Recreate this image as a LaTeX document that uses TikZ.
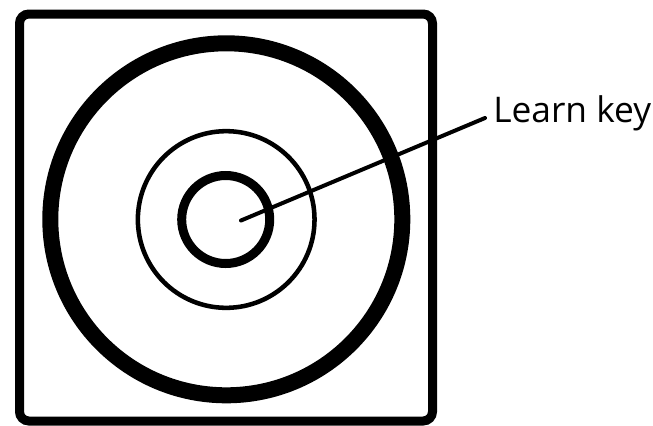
\documentclass[tikz,border=0pt]{standalone}
\usepackage{fontspec}
\setmainfont{Open Sans}
\usepackage{tikz}
\usetikzlibrary{positioning,calc}

\tikzset{
  ring/.style={circle, draw, inner sep=0pt},
  keylabel/.style={font=\fontsize{26.5}{29}\selectfont, inner sep=0pt}
}

\begin{document}
\begin{tikzpicture}[x=0.75pt, y=-0.75pt]
		\useasboundingbox (0,0) rectangle (653,425);
		% housing
		\draw[line width=6.75pt, rounded corners=7pt] (19.5,14) rectangle (432.5,421);
		% rings
		\node[ring, line width=12pt, minimum size=264pt] (outer) at (226.3,219.3) {};
		\node[ring, line width=3.4pt, minimum size=132.5pt] (middle) at (226.2,219.5) {};
		\node[ring, line width=6.75pt, minimum size=66pt] (button) at (225.7,219.5) {};
		% callout
		\node[keylabel, anchor=base west] (learn) at (493,122) {Learn key};
		\coordinate (tip) at (241,220.5);
		\coordinate (lead) at (485,118);
		\draw[line width=3pt, line cap=round] (tip) -- (lead);
	\end{tikzpicture}
\end{document}
